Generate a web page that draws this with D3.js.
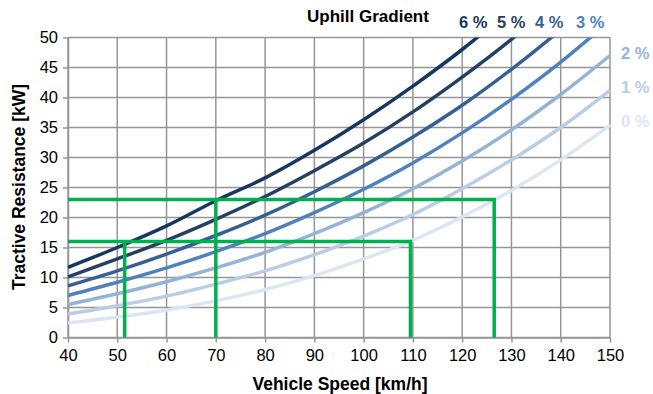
<!DOCTYPE html>
<html>
<head>
<meta charset="utf-8">
<script src="https://cdn.jsdelivr.net/npm/d3@7"></script>
<style>
  html, body { margin: 0; padding: 0; background: #fff; }
  svg { display: block; font-family: "Liberation Sans", Arial, sans-serif; }
</style>
</head>
<body>
<svg id="chart" width="653" height="394"></svg>
<script>
// Vehicle speed samples [km/h]
const speeds = [40, 50, 60, 70, 80, 90, 100, 110, 120, 130, 140, 150];

// Tractive resistance [kW] per uphill gradient
const grad0 = [2.4, 3.4, 4.6, 6.1, 8.0, 10.3, 13.1, 16.2, 20.1, 24.5, 29.6, 35.4];
const grad1 = [3.9, 5.3, 6.9, 8.9, 11.1, 13.8, 16.9, 20.5, 24.8, 29.6, 35.0, 41.2];
const grad2 = [5.5, 7.3, 9.3, 11.6, 14.2, 17.3, 20.8, 24.8, 29.4, 34.6, 40.5, 47.0];
const grad3 = [7.0, 9.2, 11.6, 14.3, 17.3, 20.8, 24.7, 29.1, 34.1, 39.7, 45.9, 52.8];
const grad4 = [8.6, 11.1, 13.9, 17.0, 20.4, 24.3, 28.6, 33.4, 38.7, 44.7, 51.3, 58.6];
const grad5 = [10.1, 13.1, 16.2, 19.7, 23.5, 27.8, 32.4, 37.6, 43.4, 49.7, 56.7, 64.5];
const grad6 = [11.7, 15.0, 18.6, 22.8, 26.6, 31.2, 36.3, 41.9, 48.0, 54.8, 62.2, 70.3];

const gradientLabels = ["0 %", "1 %", "2 %", "3 %", "4 %", "5 %", "6 %"];
const gradientColors = ["#dce6f2", "#b9cde5", "#95b3d7", "#4f81bd", "#376092", "#254061", "#17375e"];

// Operating-point guides: [power level, low speed, high speed]
const guidePower = [23, 16];
const guideLow = [70, 51.5];
const guideHigh = [126.5, 109.5];

const xTicks = [40, 50, 60, 70, 80, 90, 100, 110, 120, 130, 140, 150];
const yTicks = [0, 5, 10, 15, 20, 25, 30, 35, 40, 45, 50];

const series = [grad0, grad1, grad2, grad3, grad4, grad5, grad6];

const svg = d3.select("#chart");
const plotL = 68, plotR = 610, plotT = 37.5, plotB = 337.5;

const x = d3.scaleLinear().domain([40, 150]).range([plotL, plotR]);
const y = d3.scaleLinear().domain([0, 50]).range([plotB, plotT]);

const gridColor = "#969696";

// Grid
const grid = svg.append("g");
grid.selectAll("line.v").data(xTicks).join("line").attr("class", "v")
  .attr("x1", d => x(d)).attr("x2", d => x(d))
  .attr("y1", plotT).attr("y2", plotB)
  .attr("stroke", gridColor).attr("stroke-width", 1.5);
grid.selectAll("line.h").data(yTicks).join("line").attr("class", "h")
  .attr("x1", plotL).attr("x2", plotR)
  .attr("y1", d => y(d)).attr("y2", d => y(d))
  .attr("stroke", gridColor).attr("stroke-width", 1.5);

// Axes
const xAxis = svg.append("g")
  .attr("transform", `translate(0,${plotB})`)
  .call(d3.axisBottom(x).tickValues(xTicks).tickSize(5).tickSizeOuter(0).tickPadding(7));
const yAxis = svg.append("g")
  .attr("transform", `translate(${plotL},0)`)
  .call(d3.axisLeft(y).tickValues(yTicks).tickSize(5).tickSizeOuter(0).tickPadding(5));
[xAxis, yAxis].forEach(a => {
  a.select(".domain").attr("stroke", gridColor).attr("stroke-width", 1.5);
  a.selectAll(".tick line").attr("stroke", gridColor).attr("stroke-width", 1.5);
  a.selectAll(".tick text").attr("fill", "#000").style("font-size", "16.5px")
    .style("font-family", "Liberation Sans, Arial, sans-serif");
});

// Curves, clipped to the plot area
svg.append("clipPath").attr("id", "plotClip")
  .append("rect").attr("x", plotL - 2).attr("y", plotT).attr("width", plotR - plotL + 4).attr("height", plotB - plotT);

const line = d3.line()
  .x((d, i) => x(speeds[i]))
  .y(d => y(d))
  .curve(d3.curveMonotoneX);

svg.append("g").attr("clip-path", "url(#plotClip)")
  .selectAll("path").data(series).join("path")
  .attr("d", d => line(d))
  .attr("fill", "none")
  .attr("stroke", (d, i) => gradientColors[i])
  .attr("stroke-width", 3.5);

// Operating-point guides
const green = "#00b050";
const guides = svg.append("g").attr("stroke", green).attr("stroke-width", 3.5).attr("fill", "none");
guidePower.forEach((p, i) => {
  guides.append("path")
    .attr("d", `M${x(40)},${y(p)}H${x(guideHigh[i])}V${y(0)}`)
    .attr("stroke-linejoin", "miter");
  guides.append("line")
    .attr("x1", x(guideLow[i])).attr("x2", x(guideLow[i]))
    .attr("y1", y(p)).attr("y2", y(0));
});

// Gradient labels
svg.append("text").attr("x", 368).attr("y", 22).attr("text-anchor", "middle")
  .attr("font-weight", "bold").attr("font-size", "17px").text("Uphill Gradient");

const labelPos = [
  [621, 127], [621, 93], [621, 59], [576, 28], [535, 28], [497, 28], [459, 28]
];
svg.append("g").selectAll("text").data(gradientLabels).join("text")
  .attr("x", (d, i) => labelPos[i][0])
  .attr("y", (d, i) => labelPos[i][1])
  .attr("font-weight", "bold").attr("font-size", "16.5px")
  .attr("fill", (d, i) => gradientColors[i])
  .text(d => d);

// Axis titles
svg.append("text").attr("x", 340).attr("y", 390).attr("text-anchor", "middle")
  .attr("font-weight", "bold").attr("font-size", "17.5px").text("Vehicle Speed [km/h]");
svg.append("text").attr("transform", "translate(25,187) rotate(-90)").attr("text-anchor", "middle")
  .attr("font-weight", "bold").attr("font-size", "17.5px").text("Tractive Resistance [kW]");
</script>
</body>
</html>
